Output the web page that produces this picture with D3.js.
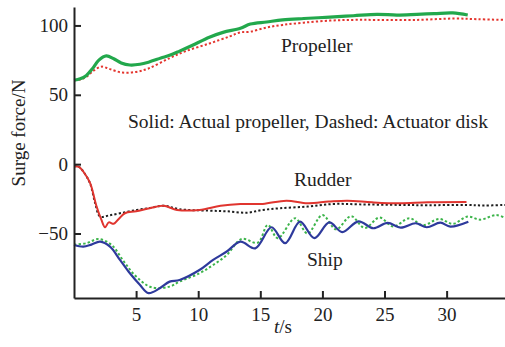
<!DOCTYPE html>
<html>
<head>
<meta charset="utf-8">
<script src="https://cdn.jsdelivr.net/npm/d3@7"></script>
<style>
  html, body { margin: 0; padding: 0; background: #fff; }
</style>
</head>
<body>
<svg id="chart" width="505" height="347"></svg>
<script>
// Surge force time histories: actual propeller (solid) vs actuator disk (dashed)
const propellerActual = [
  [0, 60.5], [0.5, 61.5], [1, 64], [1.5, 69], [2, 75], [2.6, 78], [3.2, 76], [3.8, 73], [4.5, 71.5],
  [5.3, 72], [6, 73.5], [7, 76.5], [7.7, 78.5], [8.5, 81.5], [9.5, 85.5], [10.9, 91.5], [12, 95],
  [13.4, 98], [14.2, 101], [15.5, 102.5], [16.8, 104], [18.5, 105], [20.6, 106], [22.5, 107],
  [24.4, 108], [26, 107.5], [27.6, 108], [29, 108.5], [30.5, 109], [31.7, 107.5]
];
const propellerDisk = [
  [0, 60.5], [0.5, 61], [1, 63], [1.6, 67.5], [2.2, 70.3], [2.9, 68.5], [3.9, 66], [5, 66.5],
  [6, 69], [7.7, 76.5], [9, 81.5], [10.9, 87], [12.5, 92], [13.4, 95], [14.2, 95.5], [15.5, 98.5],
  [16.8, 100.4], [18.5, 102], [20.6, 103.5], [22.5, 104], [24.4, 104], [27.6, 104], [30.7, 105],
  [32.5, 104.5], [34.7, 104]
];
const rudderActual = [
  [0, -1.5], [0.4, -2], [0.8, -6], [1.3, -13.6], [1.8, -30], [2.2, -40], [2.5, -45.5], [2.8, -42],
  [3.2, -43], [3.6, -39.5], [4.1, -35.4], [5, -34], [6.1, -31.8], [7.2, -30], [8.3, -33],
  [10.1, -33], [11.8, -30], [13.4, -28.7], [15.2, -28.7], [17.1, -26.3], [18.8, -28.2],
  [20.5, -27], [22, -26.3], [24, -27.5], [26.2, -28.2], [28.5, -27.5], [31.6, -27.3]
];
const rudderDisk = [
  [0, -1.5], [0.4, -2], [0.8, -6], [1.3, -14], [1.7, -28], [2.1, -37.8], [2.8, -37], [3.7, -35.4],
  [5.05, -33], [6.1, -31.6], [7.2, -30], [8.5, -32.5], [10.8, -33.5], [12.3, -34], [13.9, -35],
  [15.2, -33], [16.6, -31.8], [18.8, -30.6], [20.9, -28.7], [23, -29], [26.2, -29.4],
  [28.5, -29.6], [31.6, -29.4], [33, -29.8], [34.7, -29.4]
];
const shipActual = [
  [0, -58.3], [0.75, -59.5], [1.4, -58], [2.1, -55.9], [2.9, -59.5], [3.7, -69], [4.5, -78.7],
  [5.3, -87], [6.0, -93], [6.9, -89.5], [7.7, -84.7], [8.5, -83.5], [10.1, -76.3], [11.2, -69],
  [12.3, -63], [13.4, -55.9], [14.6, -60.7], [15.9, -45.5], [17.0, -57], [18.2, -41.5],
  [19.35, -53.4], [20.55, -42], [21.6, -49], [22.9, -41.2], [24.1, -46.2], [25.25, -42.4],
  [26.3, -45.8], [27.5, -42.6], [28.4, -45.5], [29.5, -42.2], [30.3, -45], [31.75, -41.5]
];
const shipDisk = [
  [0, -58], [1, -57], [1.96, -54], [3, -58], [4, -70], [5, -81], [6.25, -88.8], [7.7, -88.3],
  [8.5, -84.7], [10.1, -78.7], [11.2, -72.7], [12.3, -65.5], [13.5, -54], [14.8, -56.6],
  [15.6, -43.8], [16.4, -53.4], [17.8, -39], [18.8, -50], [20.0, -36.7], [21.1, -47],
  [22.3, -37.5], [23.4, -46], [24.6, -38.5], [25.7, -45], [27, -39], [28.1, -44], [29.4, -39.5],
  [30.5, -43], [31.7, -37.8], [32.7, -40], [34.0, -36.7], [34.7, -38.8]
];

const xTicks = [5, 10, 15, 20, 25, 30];
const yTicks = [100, 50, 0, -50];
const xDomain = [0, 34.7];
const yDomain = [-96.5, 113.3];

const FONT = "Liberation Serif";
const INK = "#222";
const svg = d3.select("#chart");
const x = d3.scaleLinear().domain(xDomain).range([74, 505]);
const y = d3.scaleLinear().domain(yDomain).range([298, 7]);

const line = d3.line().x(d => x(d[0])).y(d => y(d[1])).curve(d3.curveCatmullRom.alpha(0.5));

const series = [
  { data: propellerDisk, color: "#e4352e", dash: "2.2,2.2", width: 2 },
  { data: propellerActual, color: "#22a84c", dash: null, width: 3.2 },
  { data: rudderDisk, color: "#1e1e1e", dash: "2.2,2.2", width: 2 },
  { data: rudderActual, color: "#e0352f", dash: null, width: 2 },
  { data: shipDisk, color: "#3cb44a", dash: "2.4,2.2", width: 2 },
  { data: shipActual, color: "#2e3a9c", dash: null, width: 2.2 }
];

svg.append("g").selectAll("path").data(series).join("path")
  .attr("d", s => line(s.data))
  .attr("fill", "none")
  .attr("stroke", s => s.color)
  .attr("stroke-width", s => s.width)
  .attr("stroke-dasharray", s => s.dash)
  .attr("stroke-linejoin", "round");

// Axes with inward ticks
const yAxis = svg.append("g").attr("transform", "translate(74,0)")
  .call(d3.axisLeft(y).tickValues(yTicks).tickSizeInner(-7).tickSizeOuter(0).tickPadding(6)
    .tickFormat(d3.format("d")));
const xAxis = svg.append("g").attr("transform", "translate(0,298)")
  .call(d3.axisBottom(x).tickValues(xTicks).tickSizeInner(-7).tickSizeOuter(0).tickPadding(8));

[yAxis, xAxis].forEach(g => {
  g.attr("font-family", FONT).attr("font-size", 19);
  g.select(".domain").attr("stroke", INK).attr("stroke-width", 2);
  g.selectAll(".tick line").attr("stroke", INK).attr("stroke-width", 2);
  g.selectAll(".tick text").attr("fill", INK);
});
xAxis.selectAll(".tick text").attr("dy", "0.8em");

// Labels
const label = (tx, ty, txt, size = 19.5) =>
  svg.append("text").attr("x", tx).attr("y", ty).attr("font-size", size).attr("fill", INK)
    .attr("font-family", FONT).text(txt);

label(281, 52, "Propeller");
label(128, 128, "Solid: Actual propeller, Dashed: Actuator disk");
label(294, 186, "Rudder");
label(307, 266, "Ship");

const xl = svg.append("text").attr("x", 283).attr("y", 333).attr("text-anchor", "middle")
  .attr("font-size", 19).attr("fill", INK).attr("font-family", FONT);
xl.append("tspan").attr("font-style", "italic").text("t");
xl.append("tspan").text("/s");

svg.append("text").attr("transform", "translate(25,133) rotate(-90)").attr("text-anchor", "middle")
  .attr("font-size", 19).attr("fill", INK).attr("font-family", FONT).text("Surge force/N");
</script>
</body>
</html>
